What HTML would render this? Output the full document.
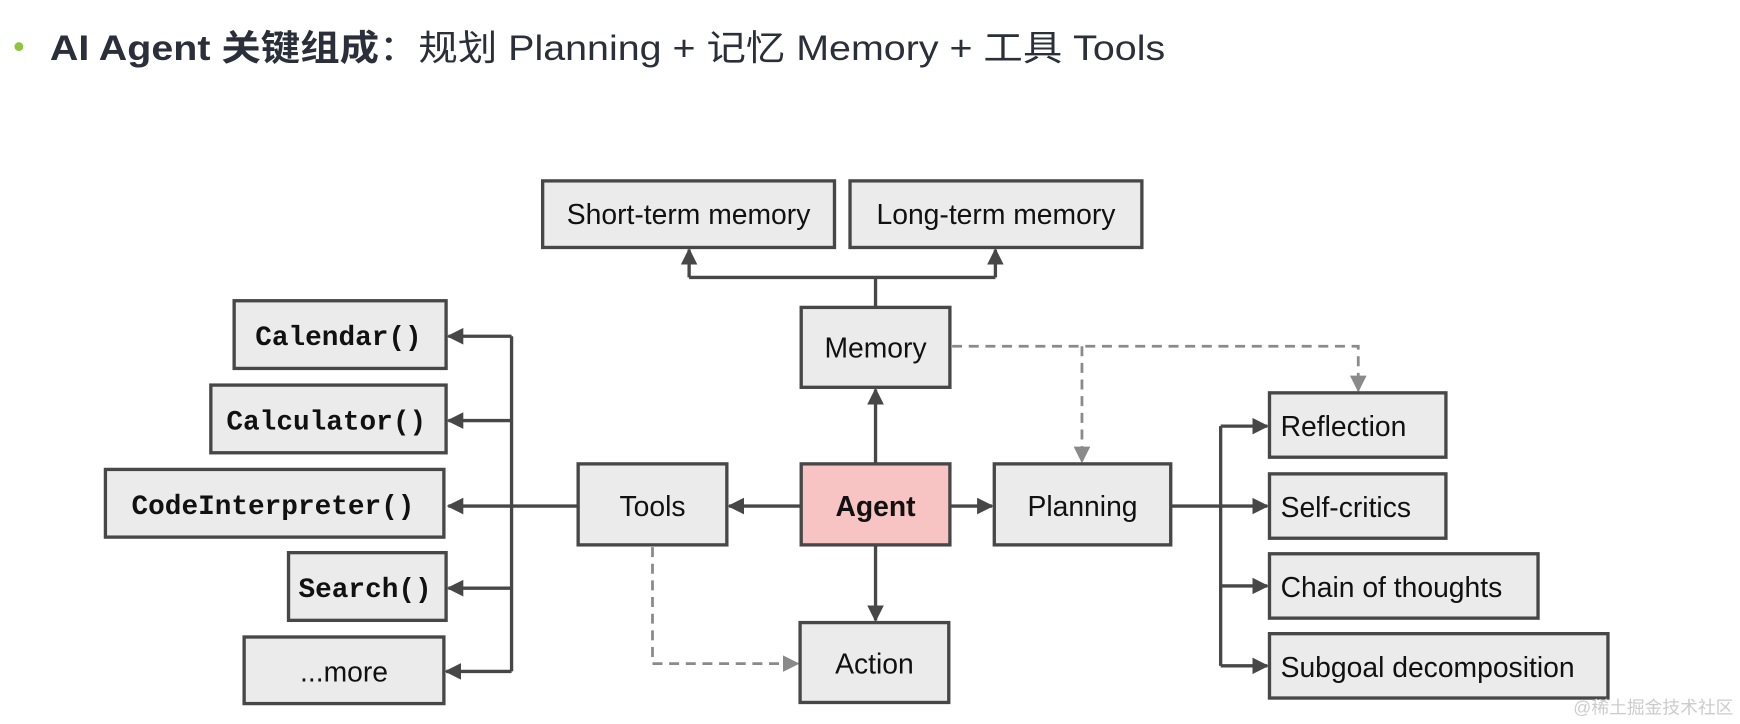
<!DOCTYPE html>
<html><head><meta charset="utf-8"><style>
html,body{margin:0;padding:0;background:#fff;width:1740px;height:724px;overflow:hidden}
svg{display:block}
.b{fill:#ebebeb;stroke:#474747;stroke-width:3}
.t{font-family:"Liberation Sans",sans-serif;font-size:25.5px;fill:#111}
.m{font-family:"Liberation Mono",monospace;font-size:25px;font-weight:bold;fill:#111}
.l{stroke:#474747;stroke-width:3;fill:none}
.d{stroke:#8a8a8a;stroke-width:2.5;fill:none;stroke-dasharray:9 6}
</style></head><body>
<svg width="1740" height="724" viewBox="0 0 1568 652.4" preserveAspectRatio="none">
<defs>
<marker id="a" viewBox="0 0 10 10" refX="9" refY="5" markerWidth="5" markerHeight="5" orient="auto"><path d="M0,0L10,5L0,10z" fill="#474747"/></marker>
<marker id="g" viewBox="0 0 10 10" refX="9" refY="5" markerWidth="6" markerHeight="6" orient="auto"><path d="M0,0L10,5L0,10z" fill="#8a8a8a"/></marker>
</defs>
<circle cx="17" cy="42" r="4" fill="#8cc63f"/>
<text x="45" y="54" font-family="Liberation Sans,'Noto Sans CJK SC',sans-serif" font-size="32" fill="#2a2f3a" textLength="1005" lengthAdjust="spacingAndGlyphs"><tspan font-weight="bold">AI Agent 关键组成</tspan>：规划 Planning + 记忆 Memory  + 工具 Tools</text>

<!-- connectors -->
<path class="l" d="M789,277V250M621,250H897"/>
<path class="l" d="M621,250V225" marker-end="url(#a)"/>
<path class="l" d="M897,250V225" marker-end="url(#a)"/>
<path class="l" d="M789,418V351" marker-end="url(#a)"/>
<path class="l" d="M789,491V559" marker-end="url(#a)"/>
<path class="l" d="M722,456H657" marker-end="url(#a)"/>
<path class="l" d="M856,456H894" marker-end="url(#a)"/>
<path class="l" d="M521,456H404" marker-end="url(#a)"/>
<path class="l" d="M461,303V605"/>
<path class="l" d="M461,303H404" marker-end="url(#a)"/>
<path class="l" d="M461,379H404" marker-end="url(#a)"/>
<path class="l" d="M461,530H404" marker-end="url(#a)"/>
<path class="l" d="M461,605H402" marker-end="url(#a)"/>
<path class="l" d="M1055,456H1142" marker-end="url(#a)"/>
<path class="l" d="M1100,384V600"/>
<path class="l" d="M1100,384H1142" marker-end="url(#a)"/>
<path class="l" d="M1100,528H1142" marker-end="url(#a)"/>
<path class="l" d="M1100,600H1142" marker-end="url(#a)"/>
<path class="d" d="M858,312H1224V352" marker-end="url(#g)"/>
<path class="d" d="M975,312V416" marker-end="url(#g)"/>
<path class="d" d="M588,493V598H719" marker-end="url(#g)"/>

<!-- boxes -->
<rect class="b" x="489" y="163" width="263" height="60"/><text class="t" x="620.5" y="202" text-anchor="middle">Short-term memory</text>
<rect class="b" x="766" y="163" width="263" height="60"/><text class="t" x="897.5" y="202" text-anchor="middle">Long-term memory</text>
<rect class="b" x="722" y="277" width="134" height="72"/><text class="t" x="789" y="322" text-anchor="middle">Memory</text>
<rect class="b" x="722" y="418" width="134" height="73" style="fill:#f8c3c3"/><text class="t" x="789" y="465" text-anchor="middle" font-weight="bold">Agent</text>
<rect class="b" x="521" y="418" width="134" height="73"/><text class="t" x="588" y="465" text-anchor="middle">Tools</text>
<rect class="b" x="896" y="418" width="159" height="73"/><text class="t" x="975.5" y="465" text-anchor="middle">Planning</text>
<rect class="b" x="721" y="561" width="134" height="72"/><text class="t" x="788" y="607" text-anchor="middle">Action</text>
<rect class="b" x="211" y="271" width="191" height="61"/><text class="m" x="305" y="311" text-anchor="middle">Calendar()</text>
<rect class="b" x="190" y="347" width="212" height="61"/><text class="m" x="294" y="387" text-anchor="middle">Calculator()</text>
<rect class="b" x="95" y="423" width="305" height="61"/><text class="m" x="246" y="463" text-anchor="middle">CodeInterpreter()</text>
<rect class="b" x="260" y="498" width="142" height="61"/><text class="m" x="329" y="538" text-anchor="middle">Search()</text>
<rect class="b" x="220" y="574" width="180" height="60"/><text class="t" x="310" y="614" text-anchor="middle">...more</text>
<rect class="b" x="1144" y="354" width="159" height="58"/><text class="t" x="1154" y="393">Reflection</text>
<rect class="b" x="1144" y="427" width="159" height="58"/><text class="t" x="1154" y="466">Self-critics</text>
<rect class="b" x="1144" y="499" width="242" height="58"/><text class="t" x="1154" y="538">Chain of thoughts</text>
<rect class="b" x="1144" y="571" width="305" height="58"/><text class="t" x="1154" y="610">Subgoal decomposition</text>
<text x="1562" y="643" text-anchor="end" font-family="Liberation Sans,'Noto Sans CJK SC',sans-serif" font-size="16" fill="#ccc">@稀土掘金技术社区</text>
</svg>
</body></html>
